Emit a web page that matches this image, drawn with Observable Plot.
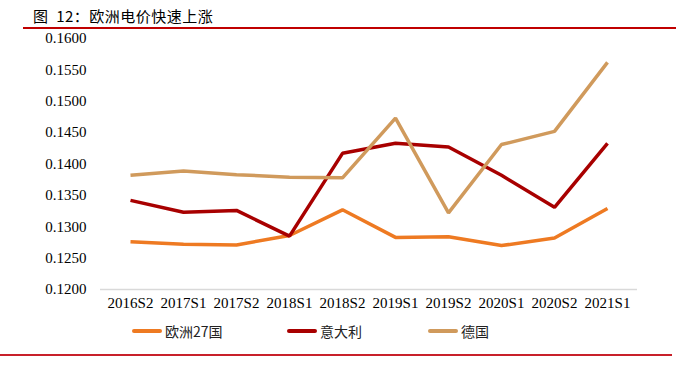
<!DOCTYPE html>
<html><head><meta charset="utf-8">
<script src="https://cdn.jsdelivr.net/npm/d3@7"></script>
<script src="https://cdn.jsdelivr.net/npm/@observablehq/plot@0.6"></script>
<style>
html,body{margin:0;padding:0;background:#fff;}
#wrap{position:relative;width:676px;height:376px;overflow:hidden;}
#title{position:absolute;left:33px;top:5px;font-family:"Noto Sans CJK SC",sans-serif;font-size:15px;color:#000;letter-spacing:0.5px;}
#topline{position:absolute;left:23px;right:0;top:27px;height:1.5px;background:#C00000;}
#botline{position:absolute;left:0;width:672px;top:354px;height:1.5px;background:#C8202A;}
#chart{position:absolute;left:0;top:28px;}
#chart svg text{font-family:"Liberation Serif","Times New Roman",serif !important;}
#legend{position:absolute;top:320px;left:0;width:676px;height:22px;font-family:"Noto Sans CJK SC",sans-serif;font-size:14px;color:#222;}
.item{position:absolute;display:flex;align-items:center;height:22px;}
.sw{width:30px;height:3.5px;border-radius:2px;margin-right:3px;}
</style></head>
<body><div id="wrap">
<div id="title">图&nbsp; 12：欧洲电价快速上涨</div>
<div id="topline"></div>
<div id="chart"></div>
<div id="legend"></div>
<div id="botline"></div>
</div>
<script>
const periods = ["2016S2","2017S1","2017S2","2018S1","2018S2","2019S1","2019S2","2020S1","2020S2","2021S1"];
const eu27    = [0.1276,0.1272,0.1271,0.1286,0.1327,0.1283,0.1284,0.1270,0.1282,0.1329];
const italy   = [0.1342,0.1323,0.1326,0.1285,0.1417,0.1433,0.1427,0.1382,0.1331,0.1433];
const germany = [0.1382,0.1389,0.1383,0.1379,0.1378,0.1473,0.1322,0.1431,0.1452,0.1562];
const seriesNames = ["欧洲27国","意大利","德国"];
const seriesColors = ["#EE7A22","#A80000","#D09A5C"];
const yTicks = [0.12,0.125,0.13,0.135,0.14,0.145,0.15,0.155,0.16];

const seriesVals = [eu27, italy, germany];
const rows = [];
seriesVals.forEach((vals, s) => vals.forEach((v, i) => rows.push({period: periods[i], value: v, series: seriesNames[s]})));

const plot = Plot.plot({
  width: 676, height: 290,
  marginLeft: 100, marginRight: 39, marginTop: 10, marginBottom: 29,
  style: {fontFamily: "'Liberation Serif','Times New Roman',serif", fontSize: "15px", color: "#000", background: "transparent"},
  x: {type: "point", domain: periods, padding: 0.5, label: null},
  y: {domain: [0.12, 0.16], ticks: yTicks, tickFormat: d3.format(".4f"), label: null},
  color: {domain: seriesNames, range: seriesColors},
  marks: [
    Plot.ruleY([0.12], {stroke: "#d9d9d9", strokeWidth: 1.5}),
    Plot.axisY({ticks: yTicks, tickFormat: d3.format(".4f"), tickSize: 0, tickPadding: 14, label: null, fontSize: 15}),
    Plot.axisX({tickSize: 0, tickPadding: 8, label: null, fontSize: 15}),
    Plot.line(rows, {x: "period", y: "value", z: "series", stroke: "series", strokeWidth: 3.5, strokeLinejoin: "miter", strokeLinecap: "butt"})
  ]
});
document.getElementById("chart").appendChild(plot);

const legendPos = [132, 287, 428];
const lg = document.getElementById("legend");
seriesNames.forEach((n, i) => {
  const it = document.createElement("div");
  it.className = "item";
  it.style.left = legendPos[i] + "px";
  it.innerHTML = `<div class="sw" style="background:${seriesColors[i]}"></div><span>${n}</span>`;
  lg.appendChild(it);
});
</script>
</body></html>
